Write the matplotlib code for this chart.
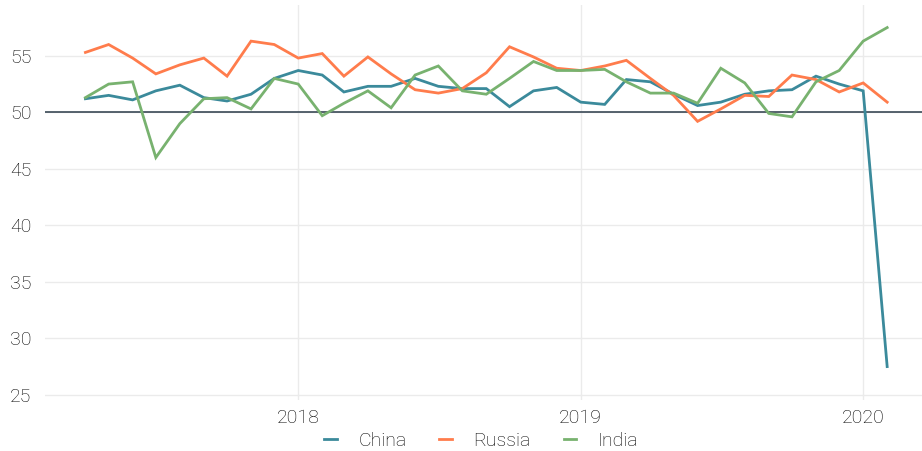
import datetime as dt
import matplotlib
matplotlib.use('Agg')
import matplotlib.pyplot as plt
import matplotlib.dates as mdates

plt.rcParams['font.family'] = ['Roboto', 'DejaVu Sans']
plt.rcParams['font.weight'] = 'light'

# monthly composite PMI, Apr 2017 - Feb 2020
months = [dt.date(2017 + (3 + i) // 12, (3 + i) % 12 + 1, 1) for i in range(35)]

china = [51.2, 51.5, 51.1, 51.9, 52.4, 51.3, 51.0, 51.6, 53.0, 53.7,
         53.3, 51.8, 52.3, 52.3, 53.0, 52.3, 52.1, 52.1, 50.5, 51.9,
         52.2, 50.9, 50.7, 52.9, 52.7, 51.6, 50.6, 50.9, 51.6, 51.9,
         52.0, 53.2, 52.5, 51.9, 27.5]
russia = [55.3, 56.0, 54.8, 53.4, 54.2, 54.8, 53.2, 56.3, 56.0, 54.8,
          55.2, 53.2, 54.9, 53.4, 52.0, 51.7, 52.1, 53.5, 55.8, 54.9,
          53.9, 53.7, 54.1, 54.6, 53.0, 51.5, 49.2, 50.3, 51.5, 51.4,
          53.3, 52.9, 51.8, 52.6, 50.9]
india = [51.3, 52.5, 52.7, 46.0, 49.0, 51.2, 51.3, 50.3, 53.0, 52.5,
         49.7, 50.8, 51.9, 50.4, 53.3, 54.1, 51.9, 51.6, 53.0, 54.5,
         53.7, 53.7, 53.8, 52.7, 51.7, 51.7, 50.8, 53.9, 52.6, 49.9,
         49.6, 52.7, 53.7, 56.3, 57.5]

series = [('China', china, '#3b8a9b'),
          ('Russia', russia, '#ff7c4c'),
          ('India', india, '#78b26f')]

fig = plt.figure(figsize=(9.22, 4.51), dpi=100)
ax = fig.add_axes([0.049, 0.112, 0.951, 0.877])

for name, vals, col in series:
    ax.plot(months, vals, color=col, lw=2, label=name, solid_joinstyle='miter')

ax.axhline(50, color='#2a3a48', lw=1.1, zorder=1)

ax.set_ylim(24.5, 59.5)
ax.set_yticks([25, 30, 35, 40, 45, 50, 55])
ax.set_xlim(dt.date(2017, 2, 8), dt.date(2020, 3, 17))
ax.xaxis.set_major_locator(mdates.YearLocator())
ax.xaxis.set_major_formatter(mdates.DateFormatter('%Y'))

ax.grid(True, color='#ebebeb', lw=1)
ax.set_axisbelow(True)
for s in ax.spines.values():
    s.set_visible(False)
ax.tick_params(length=0, labelsize=14, colors='#000000', pad=6)
ax.tick_params(axis='y', pad=10)

fig.legend(loc='lower center', bbox_to_anchor=(0.522, -0.037), ncol=3, frameon=False,
           fontsize=14, handlelength=0.65, handletextpad=1.1, columnspacing=1.7,
           labelcolor='#000000')

fig.savefig('out.png', dpi=100)
